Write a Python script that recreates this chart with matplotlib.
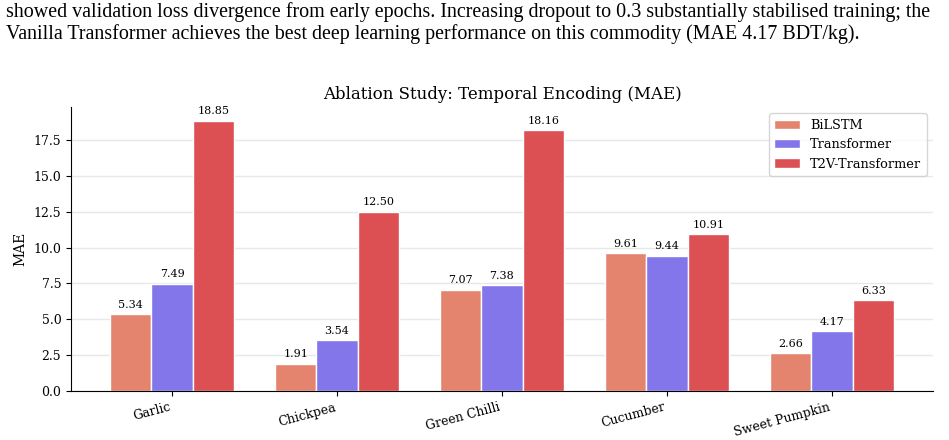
import matplotlib
matplotlib.use("Agg")
import matplotlib.pyplot as plt
import numpy as np

commodities = ["Garlic", "Chickpea", "Green Chilli", "Cucumber", "Sweet Pumpkin"]
series_names = ["BiLSTM", "Transformer", "T2V-Transformer"]
bilstm = [5.34, 1.91, 7.07, 9.61, 2.66]
transformer = [7.49, 3.54, 7.38, 9.44, 4.17]
t2v = [18.85, 12.50, 18.16, 10.91, 6.33]
colors = ["#e5846e", "#8276ea", "#dc4f52"]

doc_lines = [
    "showed validation loss divergence from early epochs. Increasing dropout to 0.3 substantially stabilised training; the",
    "Vanilla Transformer achieves the best deep learning performance on this commodity (MAE 4.17 BDT/kg).",
]

plt.rcParams['font.family'] = ['DejaVu Serif']
fig = plt.figure(figsize=(9.49, 4.40), dpi=100)
fig.text(0.0065, 1 - 17/440, doc_lines[0], family=['Liberation Serif'], fontsize=14.4, va='baseline', ha='left')
fig.text(0.0065, 1 - 39/440, doc_lines[1], family=['Liberation Serif'], fontsize=14.4, va='baseline', ha='left')

ax = fig.add_axes([71/949, 1 - 391/440, (933-71)/949, (391-107)/440])
x = np.arange(len(commodities))
w = 0.25
for i, (vals, name) in enumerate(zip([bilstm, transformer, t2v], series_names)):
    bars = ax.bar(x + (i - 1) * w, vals, w, label=name, color=colors[i], edgecolor='white', linewidth=1)
    ax.bar_label(bars, labels=[f"{v:.2f}" for v in vals], padding=3, fontsize=8)

ax.set_xticks(x)
ax.set_xticklabels(commodities, rotation=15, ha='right', fontsize=9)
ax.tick_params(axis='y', labelsize=9)
ax.set_ylabel("MAE", fontsize=10)
ax.set_title("Ablation Study: Temporal Encoding (MAE)", fontsize=12)
ax.yaxis.grid(True, color='#e8e8e8', linewidth=1)
ax.set_axisbelow(True)
ax.spines['top'].set_visible(False)
ax.spines['right'].set_visible(False)
ax.legend(loc='upper right', fontsize=9.3)

fig.savefig("out.png", dpi=100)
